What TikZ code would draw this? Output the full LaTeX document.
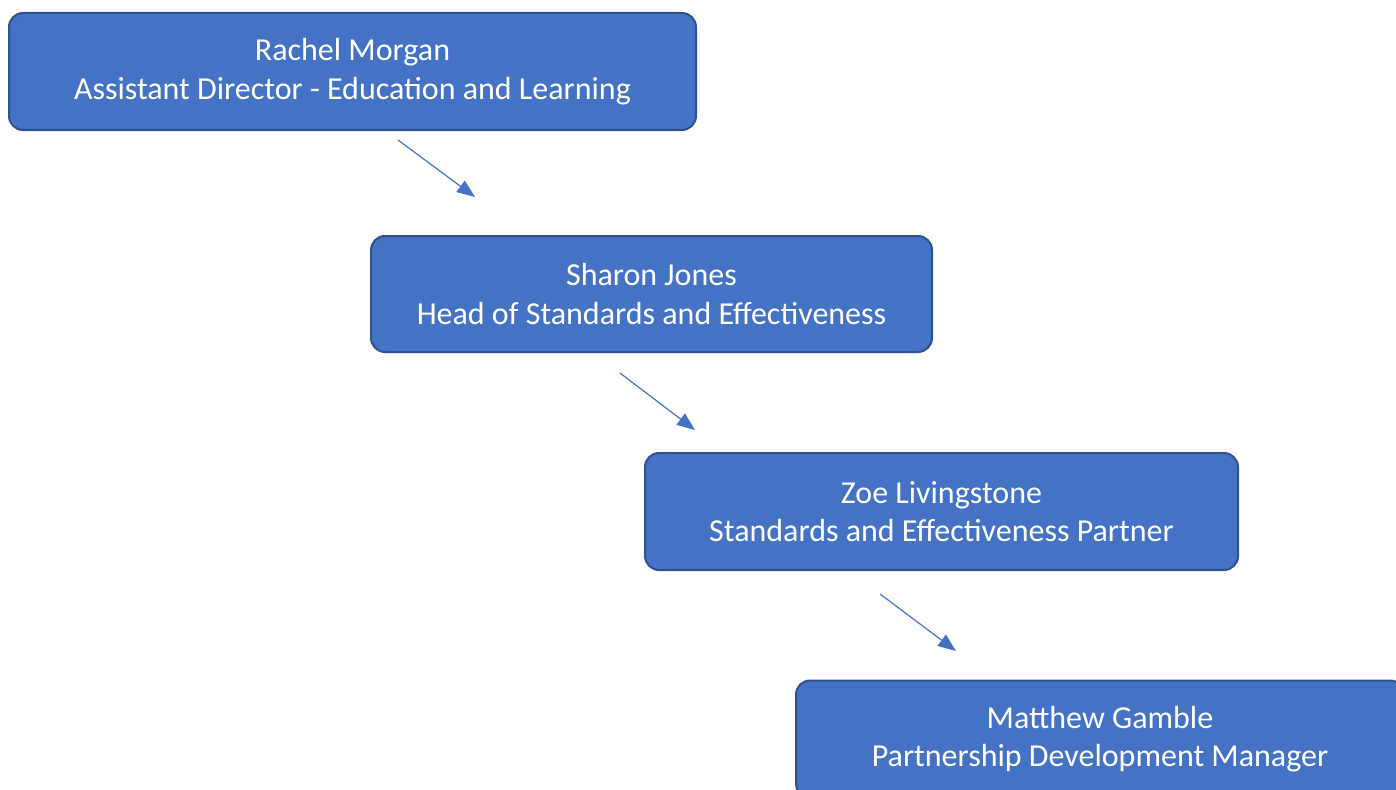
\documentclass[tikz,border=0pt]{standalone}
\usepackage{fontspec}
\setmainfont{Carlito}
\usetikzlibrary{arrows.meta}
\definecolor{boxfill}{HTML}{4472C4}
\definecolor{boxline}{HTML}{2F528F}
\tikzset{
  orgbox/.style={draw=boxline, line width=2pt, fill=boxfill, rounded corners=14pt,
    text=white, align=center, font=\fontsize{32}{38.5}\selectfont, inner sep=0pt},
  conn/.style={draw=boxfill, line width=1.2pt, -{Triangle[length=18pt,width=14pt]}}
}
\begin{document}
\begin{tikzpicture}[x=1pt,y=-1pt]
\useasboundingbox (0,0) rectangle (1396,789);
\clip (0,0) rectangle (1396,789);
\node[orgbox, minimum width=687pt, minimum height=117pt] (rm) at (352.5,71.5) {Rachel Morgan\\Assistant Director - Education and Learning};
\node[orgbox, minimum width=561pt, minimum height=116pt] (sj) at (651.5,294) {Sharon Jones\\Head of Standards and Effectiveness};
\node[orgbox, minimum width=593pt, minimum height=117pt] (zl) at (941.5,511.5) {Zoe Livingstone\\Standards and Effectiveness Partner};
\node[orgbox, minimum width=608pt, minimum height=117pt] (mg) at (1100,739) {Matthew Gamble\\Partnership Development Manager};
\coordinate (a1s) at (398,140); \coordinate (a1e) at (475,197);
\coordinate (a2s) at (620,373); \coordinate (a2e) at (695,430);
\coordinate (a3s) at (880,594); \coordinate (a3e) at (956,651);
\draw[conn] (a1s) -- (a1e);
\draw[conn] (a2s) -- (a2e);
\draw[conn] (a3s) -- (a3e);
\end{tikzpicture}
\end{document}
